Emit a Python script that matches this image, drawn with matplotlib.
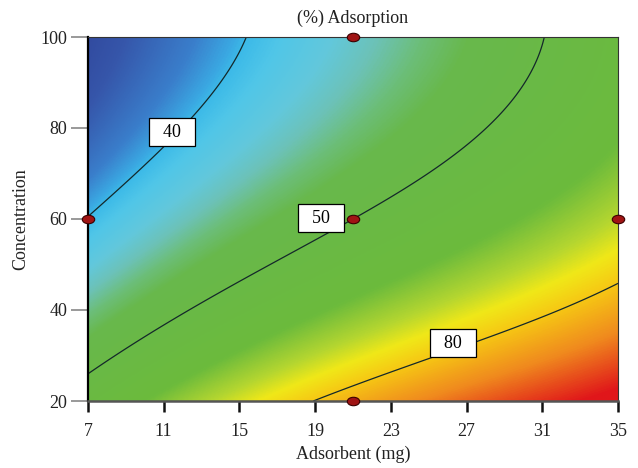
import numpy as np
import matplotlib
matplotlib.use("Agg")
import matplotlib.pyplot as plt
from matplotlib.colors import LinearSegmentedColormap, Normalize
from matplotlib.path import Path

plt.rcParams['font.family'] = ['Liberation Serif', 'DejaVu Serif']

# contour traces: (adsorbent, concentration) on each level
lvl40_x = [7.0, 9.75, 12.2, 13.8, 14.9]
lvl40_y = [61.3, 70.1, 82.4, 91.2, 100.0]
lvl50_x = [7.0, 12.4, 19.3, 21.0, 24.5, 27.7, 29.8, 31.8]
lvl50_y = [26.8, 38.5, 54.7, 59.8, 67.0, 77.4, 89.9, 100.0]
lvl80_x = [18.3, 19.3, 25.1, 30.2, 35.0]
lvl80_y = [20.0, 21.5, 30.1, 38.5, 45.9]
# estimated positions on the contour ladder (0 = 40, 1 = 50, 2 = 80) read from the colour
extra_x = [7.0, 35.0, 35.0, 7.0, 7.0, 27.0, 35.0, 35.0, 15.0]
extra_y = [100.0, 20.0, 100.0, 20.0, 44.0, 53.0, 60.0, 80.0, 20.0]
extra_u = [-0.75, 2.55, 1.3, 1.15, 0.5, 1.5, 1.7, 1.45, 1.7]

levels = [40, 50, 80]
label_x = [11.44, 19.31, 26.28]
label_y = [79.1, 60.2, 32.7]

design_x = [21, 7, 21, 35, 21]
design_y = [100, 60, 60, 60, 20]

x_ticks = [7, 11, 15, 19, 23, 27, 31, 35]
y_ticks = [20, 40, 60, 80, 100]

# smooth surface through the traced contours (cubic least squares)
px = np.array(lvl40_x + lvl50_x + lvl80_x + extra_x)
py = np.array(lvl40_y + lvl50_y + lvl80_y + extra_y)
pu = np.array([0] * len(lvl40_x) + [1] * len(lvl50_x) + [2] * len(lvl80_x) + extra_u, float)
w = np.array([3.0] * (len(lvl40_x) + len(lvl50_x) + len(lvl80_x)) + [2.0] * len(extra_x))

def basis(a, b):
    a = (np.asarray(a) - 21) / 14
    b = (np.asarray(b) - 60) / 40
    one = np.ones_like(a)
    return np.stack([one, a, b, a * b, a * a, b * b, a ** 3, a * a * b, a * b * b, b ** 3], axis=-1)

coef, *_ = np.linalg.lstsq(basis(px, py) * w[:, None], pu * w, rcond=None)

gx = np.linspace(7, 35, 400)
gy = np.linspace(20, 100, 400)
GX, GY = np.meshgrid(gx, gy)
GU = basis(GX, GY) @ coef

nodes = [(-0.9, '#2c3c92'), (-0.5, '#3656aa'), (-0.2, '#3a7ecb'), (-0.05, '#3aa8e2'),
         (0.0, '#3cbae8'), (0.12, '#50c6e8'), (0.3, '#62c8dc'), (0.45, '#6cc2b8'),
         (0.6, '#6cbe78'), (0.75, '#68b84c'), (1.45, '#6cbb3c'), (1.7, '#b4d630'),
         (1.85, '#f0e818'), (2.0, '#f6c814'), (2.25, '#f08a1e'), (2.55, '#e0161a')]
vmin, vmax = nodes[0][0], nodes[-1][0]
cmap = LinearSegmentedColormap.from_list(
    'rsm', [((v - vmin) / (vmax - vmin), c) for v, c in nodes])

fig = plt.figure(figsize=(6.38, 4.68), dpi=100)
ax = fig.add_axes([88 / 638, 1 - 401 / 468, 530 / 638, 364 / 468])
ax.imshow(GU, extent=[7, 35, 20, 100], origin='lower', aspect='auto',
          cmap=cmap, norm=Normalize(vmin, vmax), interpolation='bilinear')
ax.contour(GX, GY, GU, levels=range(len(levels)), colors='#14282a', linewidths=0.9)

for lx, ly, lv in zip(label_x, label_y, levels):
    ax.text(lx, ly, '  %d  ' % lv, ha='center', va='center', fontsize=13, zorder=5,
            bbox=dict(boxstyle='square,pad=0.3', facecolor='white', edgecolor='black', linewidth=0.9))

ell = Path.unit_circle()
ell = Path(ell.vertices * np.array([1.0, 0.68]), ell.codes)
ax.scatter(design_x, design_y, s=80, marker=ell, color='#a01414', edgecolor='#3a0000',
           linewidth=0.8, zorder=6, clip_on=False)

ax.set_xlim(7, 35)
ax.set_ylim(20, 100)
ax.set_xticks(x_ticks)
ax.set_yticks(y_ticks)
ax.tick_params(axis='both', labelsize=13, labelcolor='#222222')
ax.tick_params(axis='y', color='#888888', length=12, width=1.2, pad=3)
ax.tick_params(axis='x', color='#111111', length=8, width=1.8, pad=8)
ax.spines['left'].set_linewidth(1.6)
ax.spines['left'].set_color('black')
ax.spines['bottom'].set_linewidth(1.8)
ax.spines['bottom'].set_color('#555555')
for s in ['top', 'right']:
    ax.spines[s].set_linewidth(0.8)
    ax.spines[s].set_color('#333333')

ax.set_xlabel('Adsorbent (mg)', fontsize=13, labelpad=4, color='#222222')
ax.set_ylabel('Concentration', fontsize=13, labelpad=8, color='#222222')
ax.set_title('(%) Adsorption', fontsize=13, pad=10, color='#222222')

fig.savefig('out.png', dpi=100)
